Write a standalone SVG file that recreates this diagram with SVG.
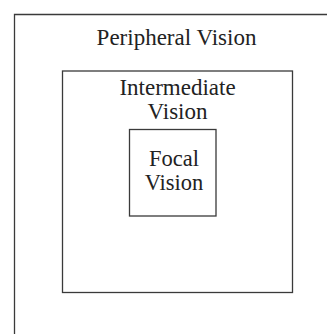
<svg xmlns="http://www.w3.org/2000/svg" width="327" height="334" viewBox="0 0 327 334">
<style>
.box{fill:none;stroke:#3a3a3a;stroke-width:1.3}
.t{font-family:"Liberation Serif","Times New Roman",serif;font-size:23px;fill:#222;text-anchor:middle}
.s{font-size:22.5px}
</style>
<rect width="327" height="334" fill="#fff"/>
<g id="peripheral">
<path class="box" d="M14.5,334 V14.5 H327"/>
<text class="t" x="176.5" y="45">Peripheral Vision</text>
</g>
<g id="intermediate">
<rect class="box" x="62.5" y="71" width="230" height="221.5"/>
<text class="t" x="177.5" y="95">Intermediate</text>
<text class="t" x="177.5" y="119">Vision</text>
</g>
<g id="focal">
<rect class="box" x="129.5" y="129.5" width="86.5" height="86.5"/>
<text class="t s" x="174" y="165.5">Focal</text>
<text class="t s" x="174" y="189.5">Vision</text>
</g>
<g id="connectors"></g>
</svg>
